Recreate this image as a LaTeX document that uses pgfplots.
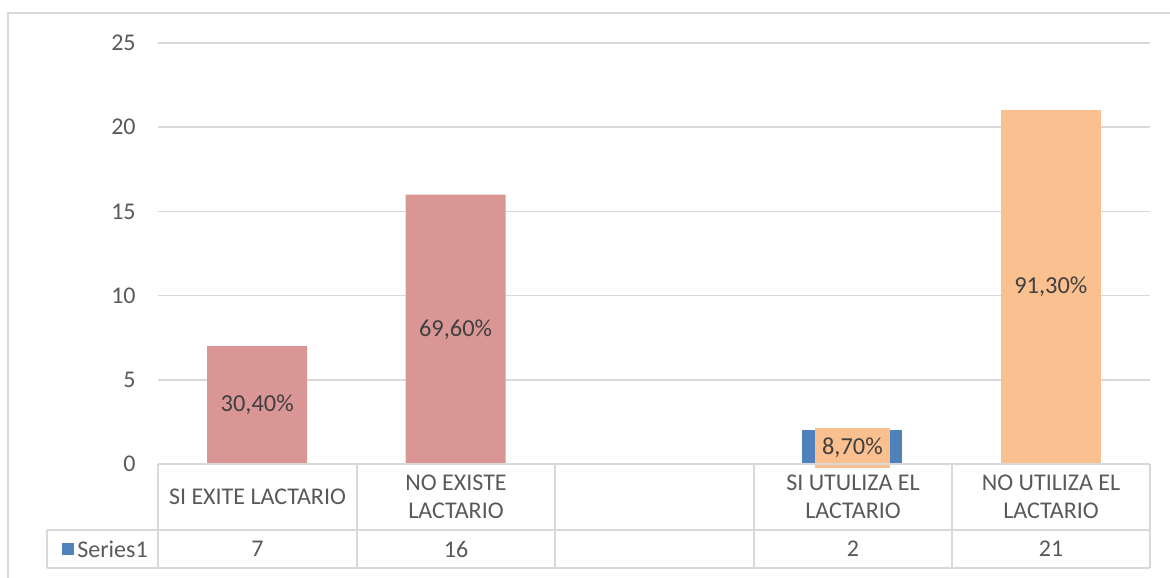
\documentclass[border=0pt]{standalone}
\usepackage{fontspec}
\setmainfont{Carlito}
\usepackage{pgfplots}
\pgfplotsset{compat=1.18}
\definecolor{pinkbar}{RGB}{217,150,148}
\definecolor{orangebar}{RGB}{250,192,144}
\definecolor{bluebar}{RGB}{79,129,189}
\definecolor{txt}{RGB}{89,89,89}
\definecolor{lbl}{RGB}{64,64,64}
\definecolor{gridc}{RGB}{217,217,217}
\begin{document}
\fontsize{12}{14.4}\selectfont
\begin{tikzpicture}[x=1pt,y=1pt]
\path[use as bounding box] (0,0) rectangle (585,288.5);
\draw[gridc, line width=0.8pt] (4,-2) -- (4,282) -- (590,282);
\begin{axis}[
  at={(79pt,56.5pt)}, anchor=south west,
  scale only axis, width=496pt, height=210.5pt,
  xmin=-0.5, xmax=4.5, ymin=0, ymax=25,
  ytick={0,5,10,15,20,25}, xtick=\empty,
  axis line style={draw=none},
  ymajorgrids, grid style={gridc, line width=0.8pt},
  major tick length=0pt,
  /pgf/number format/assume math mode=true,
  yticklabel style={font=\fontsize{12}{14}\selectfont, text=txt, inner sep=0pt, anchor=east, xshift=-11pt},
  ybar, bar width=50pt, bar shift=0pt,
  point meta=explicit symbolic,
  visualization depends on=rawy \as \rawy,
  nodes near coords,
  every node near coord/.append style={font=\fontsize{12.2}{14}\selectfont, text=lbl, anchor=center, yshift={-4.21pt*\rawy}},
  clip=false,
]
\addplot[fill=pinkbar, draw=none] coordinates {(0,7) [30,40\%] (1,16) [69,60\%]};
\addplot[fill=bluebar, draw=none, every node near coord/.append style={fill=orangebar, inner xsep=3.5pt, inner ysep=5pt, yshift=-0.5pt}] coordinates {(3,2) [8,70\%]};
\addplot[fill=orangebar, draw=none] coordinates {(4,21) [91,30\%]};
\end{axis}
% data table
\begin{scope}[gridc, line width=0.8pt]
\draw (79,56.5) -- (575,56.5);
\draw (23.5,23.5) -- (575,23.5);
\draw (23.5,4.5) -- (575,4.5);
\draw (23.5,4.5) -- (23.5,23.5);
\foreach \xx in {79,178.5,277.5,377,476,575} {\draw (\xx,56.5) -- (\xx,4.5);}
\end{scope}
\begin{scope}[every node/.style={text=txt, font=\fontsize{12}{14}\selectfont, align=center, inner sep=0pt}]
\node at (128.75,40) {SI EXITE LACTARIO};
\node at (228,40) {NO EXISTE\\LACTARIO};
\node at (426.5,40) {SI UTULIZA EL\\LACTARIO};
\node at (525.5,40) {NO UTILIZA EL\\LACTARIO};
\node at (128.75,14) {7};
\node at (228,14) {16};
\node at (426.5,14) {2};
\node at (525.5,14) {21};
\fill[bluebar] (31,11) rectangle (37,17);
\node[anchor=west] at (38.5,14) {Series1};
\end{scope}
\end{tikzpicture}
\end{document}
